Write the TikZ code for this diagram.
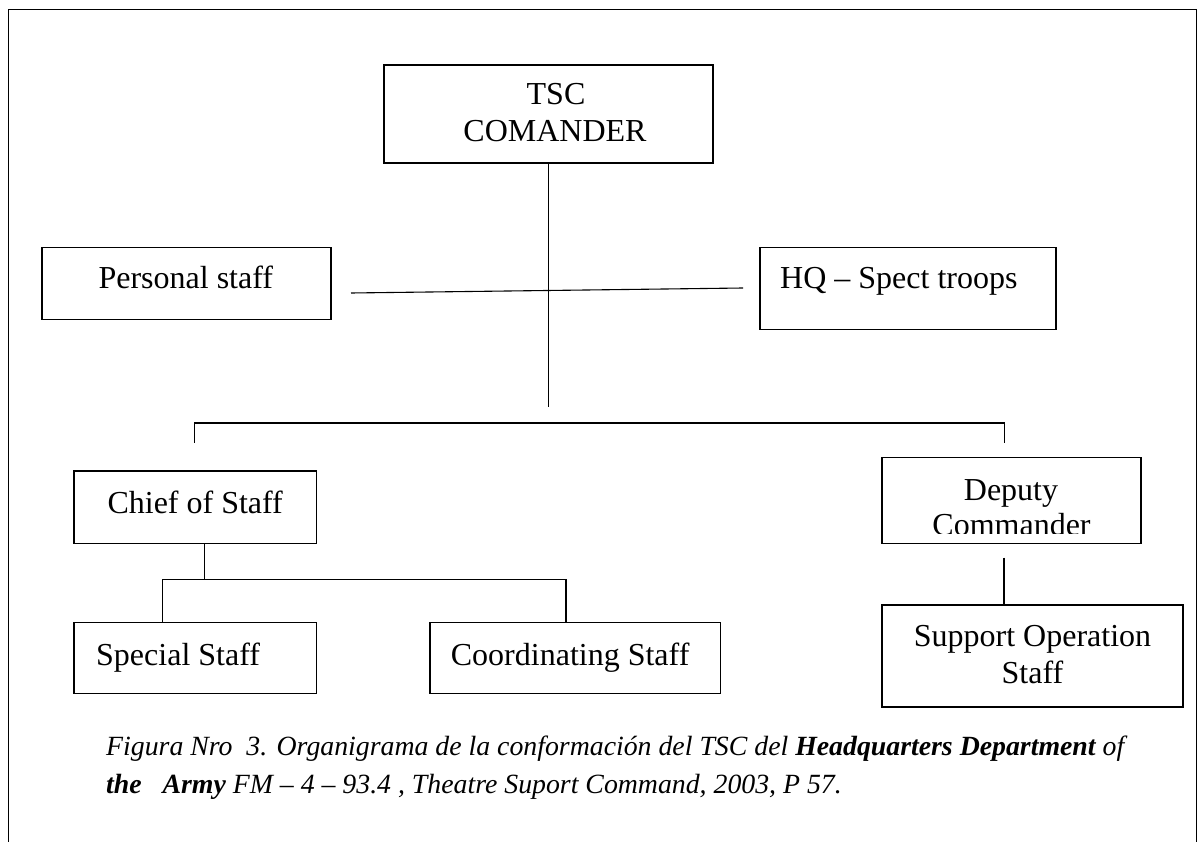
\documentclass[tikz,border=0pt]{standalone}
\usepackage{fontspec}
\setmainfont{Liberation Serif}
\begin{document}
\begin{tikzpicture}[x=1pt,y=-1pt,
  box/.style={draw, line width=1.1pt, anchor=north west, inner sep=0pt, outer sep=0pt},
  lbl/.style={anchor=base, inner sep=0pt, font=\fontsize{32}{37}\selectfont},
  lblw/.style={lbl, anchor=base west},
  captxt/.style={anchor=base west, inner sep=0pt, font=\fontsize{27.8}{33}\selectfont\itshape},
  conn/.style={line width=1.1pt},
  frameline/.style={line width=1.4pt}]
\useasboundingbox (0,0) rectangle (1199,842);
% outer frame (open at the bottom)
\draw[frameline] (8.3,860) -- (8.3,9.7) -- (1196.5,9.7) -- (1196.5,860);

% boxes
\node[box, minimum width=329pt, minimum height=98pt] (tsc) at (384,65) {};
\node[box, minimum width=289pt, minimum height=72pt] (pers) at (42,247.3) {};
\node[box, minimum width=296pt, minimum height=82pt] (hq) at (760,247.3) {};
\node[box, minimum width=242.7pt, minimum height=72.3pt] (chief) at (74,471) {};
\node[box, minimum width=259pt, minimum height=86pt] (deputy) at (882,457.3) {};
\node[box, minimum width=242.4pt, minimum height=70.6pt] (special) at (74,622.7) {};
\node[box, minimum width=290.6pt, minimum height=70.6pt] (coord) at (430,622.7) {};
\node[box, minimum width=301pt, minimum height=102pt] (support) at (882,605) {};

% texts
\node[lbl] (tsc1) at (556,105) {TSC};
\node[lbl] (tsc2) at (555,141.7) {COMANDER};
\node[lbl] (perst) at (185.8,289) {Personal staff};
\node[lblw] (hqt) at (780,288.5) {HQ – Spect troops};
\node[lbl] (chieft) at (195.2,513) {Chief of Staff};
\begin{scope}
\clip (882,457.3) rectangle (1141,533.5);
\node[lbl] (dep1) at (1011,500) {Deputy};
\node[lbl] (dep2) at (1011.5,535.5) {Commander};
\end{scope}
\node[lbl] (sup1) at (1032.5,646) {Support Operation};
\node[lbl] (sup2) at (1032.5,683) {Staff};
\node[lblw] (spect) at (96,665) {Special Staff};
\node[lblw] (coordt) at (450.7,665) {Coordinating Staff};

% caption
\node[captxt] (cap1) at (106,755) {Figura Nro\ \ 3. Organigrama de la conformación del TSC del \textbf{Headquarters Department} of};
\node[captxt] (cap2) at (106,793) {\textbf{the\ \ \ Army} FM – 4 – 93.4 , Theatre Suport Command, 2003, P 57.};

% connectors
\coordinate (v1) at (548.5,406.7);
\draw[conn] (tsc.south) -- (v1);
\coordinate (h1) at (351,293);
\coordinate (h2) at (743,288);
\draw[conn] (h1) -- (h2);
\coordinate (b1) at (194.3,442.7);
\coordinate (b2) at (194.3,423);
\coordinate (b3) at (1004.3,423);
\coordinate (b4) at (1004.3,442.7);
\draw[conn] (b1) -- (b2) -- (b3) -- (b4);
\coordinate (cx) at (204.3,579.3);
\draw[conn] (chief.south -| cx) -- (cx);
\coordinate (sx) at (162.3,579.3);
\coordinate (ox) at (566,579.3);
\draw[conn] (special.north -| sx) -- (sx) -- (ox) -- (coord.north -| ox);
\coordinate (d1) at (1004,557.7);
\draw[conn] (d1) -- (support.north -| d1);
\end{tikzpicture}
\end{document}
